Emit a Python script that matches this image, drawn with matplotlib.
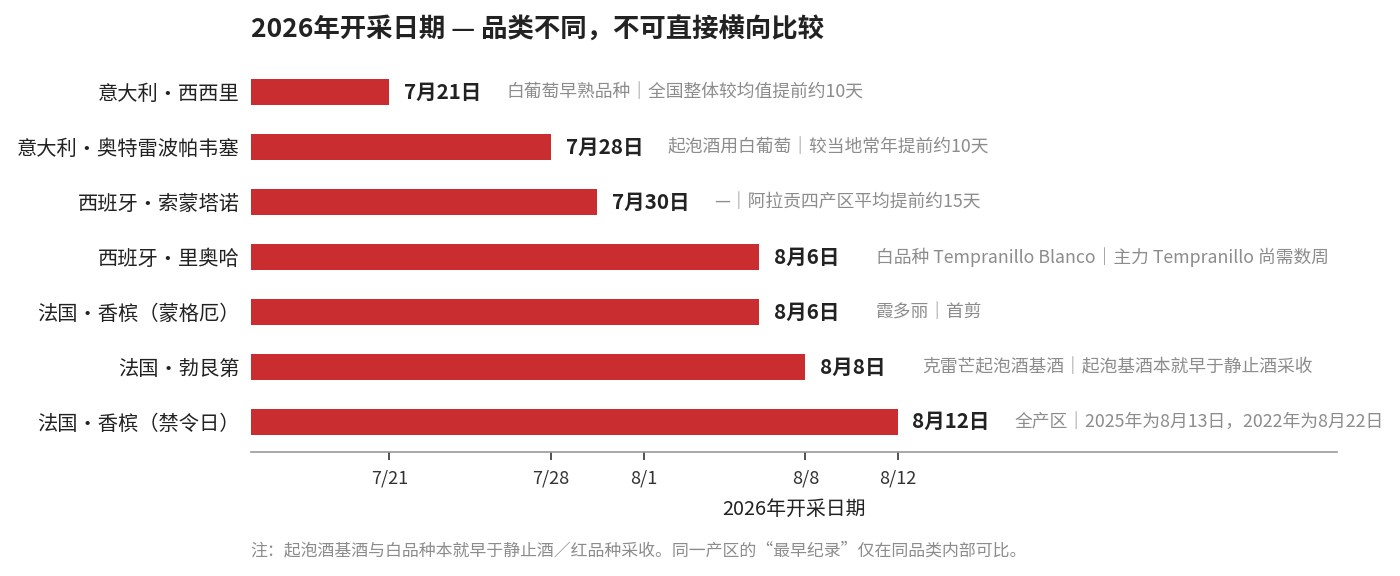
import datetime as dt
import matplotlib
matplotlib.use("Agg")
import matplotlib.pyplot as plt

plt.rcParams['font.family'] = ['Noto Sans CJK SC', 'DejaVu Sans']

# data
regions = ["意大利・西西里", "意大利・奥特雷波帕韦塞", "西班牙・索蒙塔诺", "西班牙・里奥哈",
           "法国・香槟（蒙格厄）", "法国・勃艮第", "法国・香槟（禁令日）"]
dates = ["2026-07-21", "2026-07-28", "2026-07-30", "2026-08-06",
         "2026-08-06", "2026-08-08", "2026-08-12"]
labels = ["7月21日", "7月28日", "7月30日", "8月6日", "8月6日", "8月8日", "8月12日"]
notes = ["白葡萄早熟品种｜全国整体较均值提前约10天",
         "起泡酒用白葡萄｜较当地常年提前约10天",
         "—｜阿拉贡四产区平均提前约15天",
         "白品种 Tempranillo Blanco｜主力 Tempranillo 尚需数周",
         "霞多丽｜首剪",
         "克雷芒起泡酒基酒｜起泡基酒本就早于静止酒采收",
         "全产区｜2025年为8月13日，2022年为8月22日"]
tick_dates = ["2026-07-21", "2026-07-28", "2026-08-01", "2026-08-08", "2026-08-12"]
tick_labels = ["7/21", "7/28", "8/1", "8/8", "8/12"]

base = dt.date(2026, 7, 15)

def day_num(s):
    return (dt.date.fromisoformat(s) - base).days

vals = [day_num(d) for d in dates]

fig = plt.figure(figsize=(14, 5.76), dpi=100)
ax = fig.add_axes([0.179, 0.215, 0.776, 0.673])

ax.barh(range(len(regions)), vals, left=0, height=0.46, color="#c92d2f")

for i, (v, lab, note) in enumerate(zip(vals, labels, notes)):
    ax.annotate(lab, (v, i), xytext=(10.5, 0), textcoords="offset points",
                va="center", ha="left", fontsize=14.8, fontweight="bold", color="#222222")
    ax.annotate(note, (v, i), xytext=(84, 0), textcoords="offset points",
                va="center", ha="left", fontsize=12.8, color="#8c8c8c")

ax.set_yticks(range(len(regions)))
ax.set_yticklabels(regions, fontsize=14.6, color="#222222")
ax.tick_params(axis="y", length=0, pad=8)

ax.set_xticks([day_num(d) for d in tick_dates])
ax.set_xticklabels(tick_labels, fontsize=13, color="#333333")
ax.tick_params(axis="x", length=5.5, width=1.2, color="#333333", pad=7)

ax.set_xlim(0, 47.0)
ax.set_ylim(6.55, -0.5)

for s in ["top", "right", "left"]:
    ax.spines[s].set_visible(False)
ax.spines["bottom"].set_color("#999999")
ax.spines["bottom"].set_linewidth(1.2)

ax.set_xlabel("2026年开采日期", fontsize=14.3, color="#222222", labelpad=8)

fig.text(0.179, 0.935, "2026年开采日期 — 品类不同，不可直接横向比较",
         fontsize=19, fontweight="bold", color="#222222", ha="left", va="baseline")
fig.text(0.179, 0.035, "注：起泡酒基酒与白品种本就早于静止酒／红品种采收。同一产区的“最早纪录”仅在同品类内部可比。",
         fontsize=12.2, color="#8c8c8c", ha="left", va="baseline")

fig.savefig("out.png", dpi=100, facecolor="white")
